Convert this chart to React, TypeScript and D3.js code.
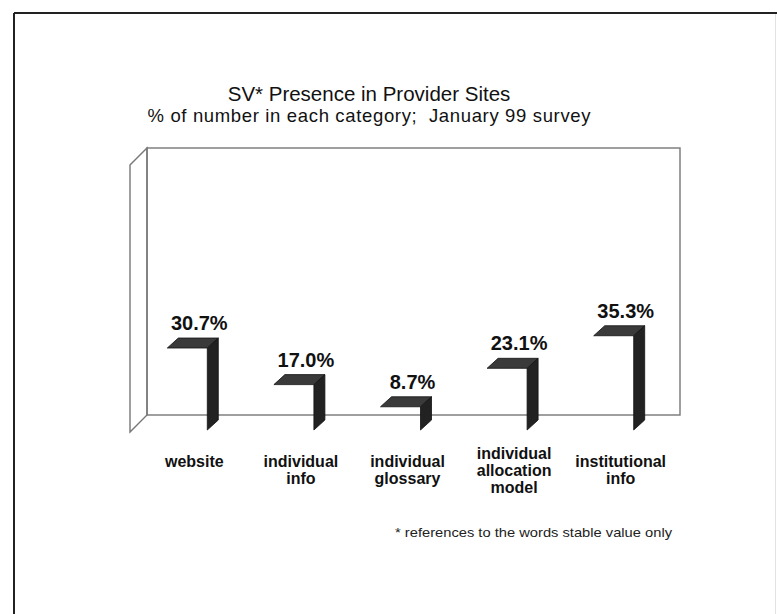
import React from "react";
import * as d3 from "d3";

const title = "SV* Presence in Provider Sites";
const subtitle = "% of number in each category;  January 99 survey";
const footnote = "* references to the words stable value only";
const categories: string[][] = [
  ["website"],
  ["individual", "info"],
  ["individual", "glossary"],
  ["individual", "allocation", "model"],
  ["institutional", "info"],
];
const values = [30.7, 17.0, 8.7, 23.1, 35.3];
const valueLabels = ["30.7%", "17.0%", "8.7%", "23.1%", "35.3%"];
const yDomain = [0, 100];

const W = 777;
const H = 614;
const FONT = "'Liberation Sans', Arial, Helvetica, sans-serif";

export default function App() {
  const frontLeft = 130;
  const frontRight = 663;
  const depth = 17;
  const backFloor = 415;
  const backTop = 148;
  const barBase = 430;
  const barHalf = 20;
  const bdx = 11;
  const bdy = -10;

  const x = d3
    .scaleBand<number>()
    .domain(values.map((_, i) => i))
    .range([frontLeft, frontRight]);
  const h = d3.scaleLinear().domain(yDomain).range([0, backFloor - backTop]);

  const leftWall = [
    [frontLeft, backTop + depth],
    [frontLeft + depth, backTop],
    [frontLeft + depth, backFloor],
    [frontLeft, backFloor + depth],
  ];
  const line = d3.line();

  return (
    <svg
      width={W}
      height={H}
      style={{ position: "absolute", left: 0, top: 0, background: "#fff" }}
      fontFamily={FONT}
    >
      <rect x={0} y={0} width={W} height={H} fill="#fff" />
      <line x1={14} y1={13} x2={777} y2={13} stroke="#222" strokeWidth={2} />
      <line x1={14} y1={13} x2={14} y2={614} stroke="#222" strokeWidth={2} />
      <line x1={775.5} y1={14} x2={775.5} y2={614} stroke="#e2e2e2" strokeWidth={1} />

      <text x={369} y={101} textAnchor="middle" fontSize={20.5} fill="#111">
        {title}
      </text>
      <text
        x={369}
        y={122}
        textAnchor="middle"
        fontSize={18.5}
        fill="#111"
        textLength={443}
        lengthAdjust="spacing"
        style={{ whiteSpace: "pre" }}
      >
        {subtitle}
      </text>

      <path
        d={line(leftWall as [number, number][])! + "Z"}
        fill="#fff"
        stroke="#777"
        strokeWidth={1.4}
      />
      <rect
        x={frontLeft + depth}
        y={backTop}
        width={frontRight - frontLeft}
        height={backFloor - backTop}
        fill="none"
        stroke="#777"
        strokeWidth={1.4}
      />

      {values.map((v, i) => {
        const c = (x(i) as number) + x.bandwidth() / 2 + 4;
        const L = c - barHalf;
        const R = c + barHalf;
        const T = barBase - h(v);
        const top = [
          [L, T],
          [R, T],
          [R + bdx, T + bdy],
          [L + bdx, T + bdy],
        ] as [number, number][];
        const side = [
          [R, T],
          [R + bdx, T + bdy],
          [R + bdx, barBase + bdy],
          [R, barBase],
        ] as [number, number][];
        return (
          <g key={i}>
            <path d={line(top)! + "Z"} fill="#3a3a3a" stroke="#111" strokeWidth={0.8} />
            <path d={line(side)! + "Z"} fill="#222" stroke="#111" strokeWidth={0.8} />
            <text
              x={c + 12}
              y={T + bdy - 8}
              textAnchor="middle"
              fontSize={20}
              fontWeight="bold"
              fill="#111"
            >
              {valueLabels[i]}
            </text>
            <text textAnchor="middle" fontSize={16} fontWeight="bold" fill="#111">
              {categories[i].map((s, j) => (
                <tspan key={j} x={c + 7} y={467 + j * 17 - (categories[i].length > 2 ? 8 : 0)}>
                  {s}
                </tspan>
              ))}
            </text>
          </g>
        );
      })}

      <text
        x={395}
        y={537}
        fontSize={13.5}
        fill="#222"
        textLength={277}
        lengthAdjust="spacingAndGlyphs"
      >
        {footnote}
      </text>
    </svg>
  );
}
